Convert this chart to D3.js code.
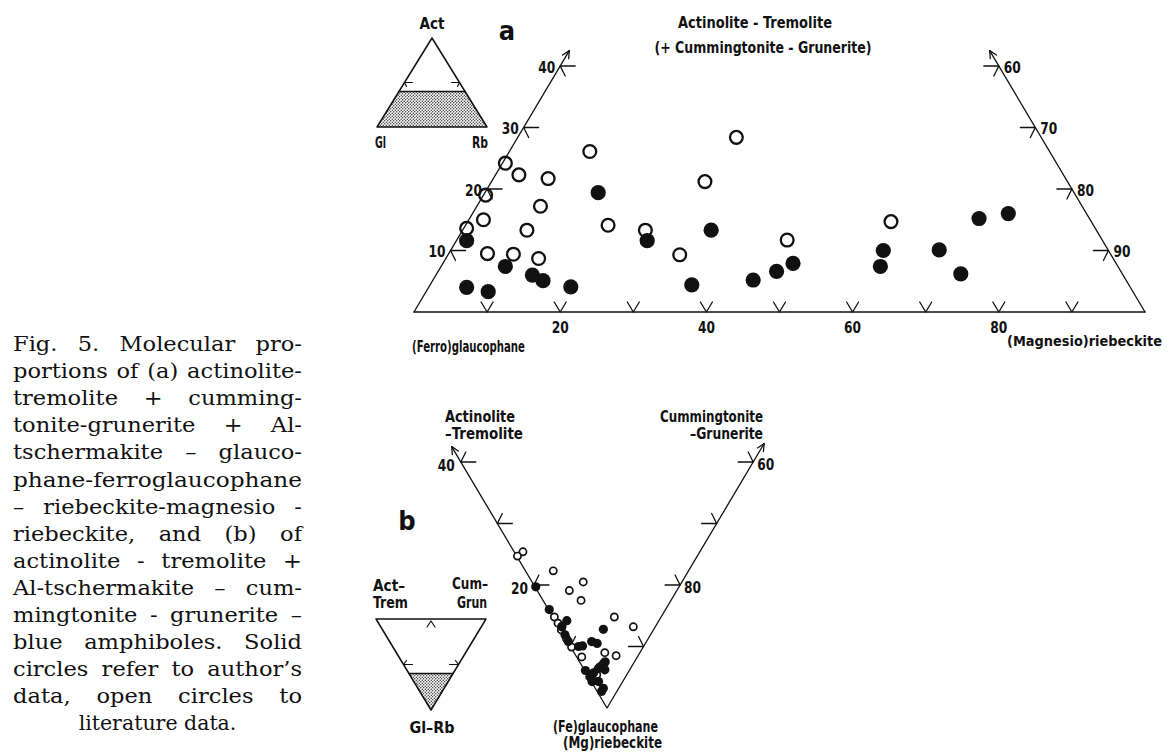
<!DOCTYPE html>
<html><head><meta charset="utf-8">
<script src="https://cdn.jsdelivr.net/npm/d3@7"></script>
<style>
html,body{margin:0;padding:0;background:#fff;}
svg{display:block;}
.lab{font-family:"DejaVu Sans Condensed","Liberation Sans Narrow","Roboto Condensed",sans-serif;font-weight:bold;fill:#111;}
.cap{font-family:"DejaVu Serif","Liberation Serif",serif;fill:#111;}
</style></head><body>
<svg id="c" width="1170" height="752"></svg>
<script>
// ---------------- DATA ----------------
// Panel a: ternary Act / (Ferro)glaucophane / (Magnesio)riebeckite, values in % [act, rb]
const aOpen = [[24.2,0.4],[22.3,3.2],[21.7,7.5],[26.1,11.0],[19.0,0.3],[17.2,8.7],[15.0,2.0],[13.3,8.8],[13.6,0.4],[14.1,19.5],[9.5,5.3],[9.4,8.9],[8.7,12.7],[13.3,25.0],[9.3,31.7],[28.4,29.9],[21.2,29.2],[11.7,45.2],[14.7,57.9]];
const aSolid = [[11.6,1.4],[19.4,15.5],[7.4,8.8],[6.0,13.2],[5.1,15.1],[4.1,19.4],[4.0,5.2],[3.3,8.5],[11.6,26.1],[13.3,34.0],[4.4,35.8],[5.2,43.8],[6.6,46.3],[7.9,47.9],[10.0,59.2],[7.4,60.1],[10.1,66.8],[6.2,71.7],[15.2,69.7],[16.0,73.3]];
const aSideTicks = [10,20,30,40];
const aLeftLabels = ["10","20","30","40"];
const aRightLabels = ["90","80","70","60"];
const aBottomTicks = [10,20,30,40,50,60,70,80,90];
const aBottomLabels = ["20","40","60","80"];
// Panel b: ternary Act-Trem / Cum-Grun / Gl-Rb, values in % [act, cum]
const bOpen = [[24.2,1.2],[24.6,0.1],[18.5,3.8],[13.5,7.0],[14.7,4.4],[12.3,5.2],[6.4,8.4],[3.0,10.2],[14.6,0.2],[13.6,0.2],[12.8,0.5],[12.6,0.1],[11.2,0.1],[9.8,0.1],[7.6,0.7],[4.8,4.2],[3.0,5.5],[4.1,1.3]];
const bSolid = [[19.6,0.1],[15.9,0.1],[12.6,1.6],[6.9,5.9],[12.8,0.4],[11.7,0.2],[10.7,0.1],[8.9,1.1],[8.4,1.7],[7.5,3.3],[6.6,3.9],[6.0,0.1],[4.9,0.2],[4.3,2.4],[4.0,3.5],[3.4,2.8],[3.3,1.0],[2.1,1.1],[4.2,0.1],[4.7,1.0],[4.4,2.0],[4.1,3.1],[2.1,0.6]];
const bSideTicks = [10,20,30,40];
const bLeftLabels = {20:"20",40:"40"};
const bRightLabels = {20:"80",40:"60"};
const captionLines = [
 "Fig. 5. Molecular pro-",
 "portions of (a) actinolite-",
 "tremolite + cumming-",
 "tonite-grunerite + Al-",
 "tschermakite \u2013 glauco-",
 "phane-ferroglaucophane",
 "\u2013 riebeckite-magnesio -",
 "riebeckite, and (b) of",
 "actinolite - tremolite +",
 "Al-tschermakite \u2013 cum-",
 "mingtonite - grunerite \u2013",
 "blue amphiboles. Solid",
 "circles refer to author\u2019s",
 "data, open circles to",
 "literature data."
];

// ---------------- DRAW ----------------
const svg = d3.select("#c");
const defs = svg.append("defs");
const pat = defs.append("pattern").attr("id","dots").attr("patternUnits","userSpaceOnUse")
  .attr("width",3).attr("height",3);
pat.append("rect").attr("width",3).attr("height",3).attr("fill","#fff");
pat.append("circle").attr("cx",0.75).attr("cy",0.75).attr("r",0.7).attr("fill","#222");
pat.append("circle").attr("cx",2.25).attr("cy",2.25).attr("r",0.7).attr("fill","#222");

const ink = "#111";
function line(g, pts, w){ g.append("path").attr("d", d3.line()(pts)).attr("fill","none").attr("stroke",ink).attr("stroke-width",w||1.3).attr("stroke-linejoin","round").attr("stroke-linecap","round"); }
function label(g, t, x, y, o){
  o = o||{};
  const el = g.append("text").attr("class", o.cls||"lab").attr("x",x).attr("y",y)
    .attr("text-anchor", o.anchor||"start").attr("dominant-baseline","central")
    .style("font-size",(o.size||16)+"px").text(t);
  if(o.len) el.attr("textLength",o.len).attr("lengthAdjust","spacingAndGlyphs");
  return el;
}
function arrowHead(g, tip, from, len){
  const dx = tip[0]-from[0], dy = tip[1]-from[1], L = Math.hypot(dx,dy);
  const ux = dx/L, uy = dy/L;
  const a = 0.45;
  const p1 = [tip[0]-len*(ux*Math.cos(a)-uy*Math.sin(a)), tip[1]-len*(uy*Math.cos(a)+ux*Math.sin(a))];
  const p2 = [tip[0]-len*(ux*Math.cos(a)+uy*Math.sin(a)), tip[1]-len*(uy*Math.cos(a)-ux*Math.sin(a))];
  line(g,[p1,tip,p2],1.3);
}

// ===== Panel a =====
const gA = svg.append("g");
const xA = d3.scaleLinear().domain([0,100]).range([414,1145]);
const yA = d3.scaleLinear().domain([0,100]).range([312,-303]);
const posA = (act, rb) => [xA(rb + act/2), yA(act)];
line(gA,[posA(0,0),posA(0,100)]);
line(gA,[posA(0,0),posA(42.5,0)]);
line(gA,[posA(0,100),posA(42.5,57.5)]);
arrowHead(gA,posA(42.5,0),posA(0,0),8);
arrowHead(gA,posA(42.5,57.5),posA(0,100),8);
aBottomTicks.forEach(v=>{ const p=posA(0,v); line(gA,[[p[0]-6,p[1]-10],p,[p[0]+6,p[1]-10]],1.3); });
aBottomLabels.forEach(s=>{ const p=posA(0,+s); label(gA,s,p[0],p[1]+15,{anchor:"middle",size:16,len:17}); });
aSideTicks.forEach((v,i)=>{
  const p=posA(v,0);
  line(gA,[[p[0]+15,p[1]],p,[p[0]+5,p[1]+10]],1.3);
  label(gA,aLeftLabels[i],p[0]-5,p[1]+1,{anchor:"end",size:16,len:17});
});
aSideTicks.forEach((v,i)=>{
  const p=posA(v,100-v);
  line(gA,[[p[0]-15,p[1]],p,[p[0]-5,p[1]+10]],1.3);
  label(gA,aRightLabels[i],p[0]+5,p[1]+1,{anchor:"start",size:16,len:17});
});
gA.selectAll("circle.ao").data(aOpen).join("circle").attr("class","ao")
  .attr("cx",d=>posA(d[0],d[1])[0]).attr("cy",d=>posA(d[0],d[1])[1]).attr("r",6.4)
  .attr("fill","none").attr("stroke",ink).attr("stroke-width",2.3);
gA.selectAll("circle.as").data(aSolid).join("circle").attr("class","as")
  .attr("cx",d=>posA(d[0],d[1])[0]).attr("cy",d=>posA(d[0],d[1])[1]).attr("r",7.6)
  .attr("fill",ink);
label(gA,"Actinolite - Tremolite",755,22,{anchor:"middle",size:16,len:154});
label(gA,"(+ Cummingtonite - Grunerite)",763,47,{anchor:"middle",size:16,len:217});
label(gA,"(Ferro)glaucophane",412,346,{size:16,len:113});
label(gA,"(Magnesio)riebeckite",1007,341,{size:14,len:155});
label(gA,"a",507,30,{anchor:"middle",size:27});

// inset a
const gIa = svg.append("g");
const xIa = d3.scaleLinear().domain([0,100]).range([377,487]);
const yIa = d3.scaleLinear().domain([0,100]).range([127,38]);
const posIa = (act, rb) => [xIa(rb + act/2), yIa(act)];
gIa.append("path").attr("d", d3.line()([posIa(0,0),posIa(0,100),posIa(40,60),posIa(40,0)])+"Z")
  .attr("fill","url(#dots)").attr("stroke","none");
line(gIa,[posIa(0,0),posIa(0,100),posIa(100,0),posIa(0,0)],1.5);
line(gIa,[posIa(40,0),posIa(40,60)],1.5);
{ const p=posIa(50,0); line(gIa,[[p[0]+8,p[1]],p,[p[0]+2,p[1]+4]],1.2);
  const q=posIa(50,50); line(gIa,[[q[0]-8,q[1]],q,[q[0]-2,q[1]+4]],1.2); }
label(gIa,"Act",432,23,{anchor:"middle",size:16,len:25});
label(gIa,"Gl",375,142,{size:16,len:11});
label(gIa,"Rb",472,142,{size:16,len:16});

// ===== Panel b =====
const gB = svg.append("g");
const xB = d3.scaleLinear().domain([-100,100]).range([607-365.5,607+365.5]);
const yB = d3.scaleLinear().domain([0,100]).range([708,93]);
const posB = (act, cum) => [xB(cum-act), yB(act+cum)];
line(gB,[posB(42.5,0),posB(0,0),posB(0,43)]);
arrowHead(gB,posB(42.5,0),posB(0,0),8);
arrowHead(gB,posB(0,43),posB(0,0),8);
bSideTicks.forEach(v=>{
  const p=posB(v,0);
  line(gB,[[p[0]+15,p[1]],p,[p[0]+5,p[1]-10]],1.3);
  if(bLeftLabels[v]) label(gB,bLeftLabels[v],p[0]-6,p[1]+3,{anchor:"end",size:16,len:17});
  const q=posB(0,v);
  line(gB,[[q[0]-15,q[1]],q,[q[0]-5,q[1]-10]],1.3);
  if(bRightLabels[v]) label(gB,bRightLabels[v],q[0]+4,q[1]+2,{anchor:"start",size:16,len:17});
});
gB.selectAll("circle.bo").data(bOpen).join("circle").attr("class","bo")
  .attr("cx",d=>posB(d[0],d[1])[0]).attr("cy",d=>posB(d[0],d[1])[1]).attr("r",3.6)
  .attr("fill","#fff").attr("stroke",ink).attr("stroke-width",1.7);
gB.selectAll("circle.bs").data(bSolid).join("circle").attr("class","bs")
  .attr("cx",d=>posB(d[0],d[1])[0]).attr("cy",d=>posB(d[0],d[1])[1]).attr("r",4.6)
  .attr("fill",ink);
label(gB,"Actinolite",445,416,{size:16,len:70});
label(gB,"\u2013Tremolite",445,433,{size:16,len:78});
label(gB,"Cummingtonite",763,416,{anchor:"end",size:16,len:103});
label(gB,"\u2013Grunerite",763,433,{anchor:"end",size:16,len:73});
label(gB,"(Fe)glaucophane",553,727,{size:15,len:105});
label(gB,"(Mg)riebeckite",563,743,{size:15,len:99});
label(gB,"b",407,520,{anchor:"middle",size:27});

// inset b
const gIb = svg.append("g");
const xIb = d3.scaleLinear().domain([-100,100]).range([431-55,431+55]);
const yIb = d3.scaleLinear().domain([0,100]).range([710,619]);
const posIb = (act, cum) => [xIb(cum-act), yIb(act+cum)];
gIb.append("path").attr("d", d3.line()([posIb(0,0),posIb(40,0),posIb(0,40)])+"Z")
  .attr("fill","url(#dots)").attr("stroke","none");
line(gIb,[posIb(0,0),posIb(100,0),posIb(0,100),posIb(0,0)],1.5);
line(gIb,[posIb(40,0),posIb(0,40)],1.5);
{ const t=posIb(50,50); line(gIb,[[t[0]-4,t[1]+8],[t[0],t[1]+2],[t[0]+4,t[1]+8]],1.2);
  const p=posIb(50,0); line(gIb,[[p[0]+9,p[1]],p,[p[0]+3,p[1]-4]],1.2);
  const q=posIb(0,50); line(gIb,[[q[0]-9,q[1]],q,[q[0]-3,q[1]-4]],1.2); }
label(gIb,"Act\u2013",373,585,{size:16,len:32});
label(gIb,"Trem",373,602,{size:16,len:35});
label(gIb,"Cum\u2013",452,583,{size:16,len:36});
label(gIb,"Grun",457,602,{size:16,len:30});
label(gIb,"Gl\u2013Rb",432,727,{anchor:"middle",size:16,len:45});

// ===== Caption (justified) =====
const gC = svg.append("g");
const cx0 = 13, cW = 289, cy0 = 351, cdy = 27.1;
const fs = 20.5;
captionLines.forEach((l,i)=>{
  const y = cy0 + i*cdy;
  if(i===captionLines.length-1){
    gC.append("text").attr("class","cap").attr("x",cx0+cW/2).attr("y",y).attr("text-anchor","middle").style("font-size",fs+"px").text(l);
    return;
  }
  const words = l.split(" ");
  const nodes = words.map(w=>gC.append("text").attr("class","cap").style("font-size",fs+"px").attr("y",y).text(w));
  const ws = nodes.map(n=>n.node().getComputedTextLength());
  const sum = d3.sum(ws);
  if(words.length===1){ nodes[0].attr("x",cx0).attr("textLength",cW).attr("lengthAdjust","spacingAndGlyphs"); return; }
  let f = (cW - (words.length-1)*0.3*fs)/sum;
  f = Math.max(0.8, Math.min(1.1, f));
  const gap = (cW - f*sum)/(words.length-1);
  let x = cx0;
  nodes.forEach((n,j)=>{ n.attr("x",x).attr("textLength",ws[j]*f).attr("lengthAdjust","spacingAndGlyphs"); x += ws[j]*f+gap; });
});
</script>
</body></html>
